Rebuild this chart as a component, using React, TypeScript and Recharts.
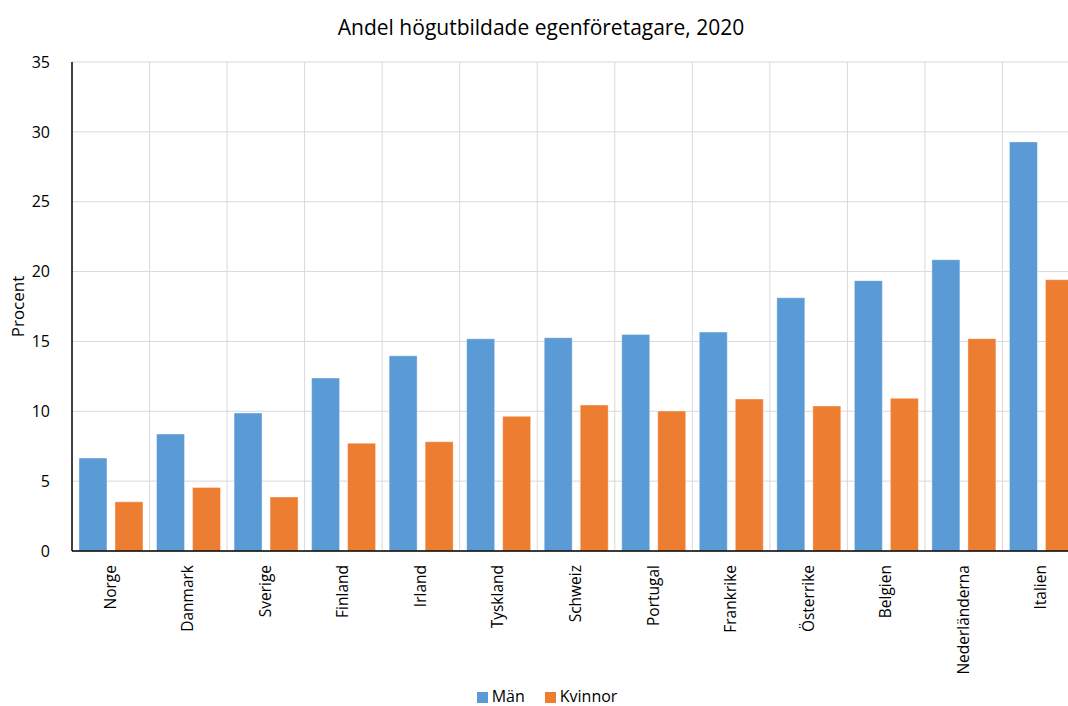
import React from 'react';
import {
  BarChart,
  Bar,
  XAxis,
  YAxis,
  CartesianGrid,
  Legend,
} from 'recharts';

const countries = [
  'Norge',
  'Danmark',
  'Sverige',
  'Finland',
  'Irland',
  'Tyskland',
  'Schweiz',
  'Portugal',
  'Frankrike',
  'Österrike',
  'Belgien',
  'Nederländerna',
  'Italien',
];

const man = [6.65, 8.37, 9.88, 12.38, 13.97, 15.19, 15.27, 15.5, 15.67, 18.13, 19.35, 20.85, 29.28];
const kvinnor = [3.52, 4.55, 3.87, 7.72, 7.82, 9.64, 10.45, 10.02, 10.88, 10.38, 10.93, 15.2, 19.42];

const yTicks = [0, 5, 10, 15, 20, 25, 30, 35];
const seriesOrder = ['Män', 'Kvinnor'];

const data = countries.map((land, i) => ({
  land,
  man: man[i],
  kvinnor: kvinnor[i],
}));

const FONT = '"Open Sans", sans-serif';

export default function App() {
  // vertical grid lines sit on the category boundaries, not on the centres
  const boundaries = ({ offset }: any) => {
    const step = offset.width / countries.length;
    return countries.map((_, i) => offset.left + (i + 1) * step);
  };

  return (
    <div style={{ width: 1068, height: 706, overflow: 'hidden', position: 'relative', fontFamily: FONT }}>
      <style>{'body{margin:0}'}</style>
      <div
        style={{
          position: 'absolute',
          top: 13,
          left: 0,
          width: 1082,
          textAlign: 'center',
          fontSize: 21,
          color: '#000',
        }}
      >
        Andel högutbildade egenföretagare, 2020
      </div>
      <BarChart
        width={1080}
        height={706}
        data={data}
        margin={{ top: 62, right: 0, bottom: 0, left: 0 }}
        barCategoryGap="9%"
        barGap={8}
      >
        <CartesianGrid stroke="#d9d9d9" verticalCoordinatesGenerator={boundaries} />
        <XAxis
          dataKey="land"
          interval={0}
          tickLine={false}
          axisLine={{ stroke: '#000', strokeWidth: 1.5 }}
          height={129}
          angle={-90}
          textAnchor="end"
          dx={-6}
          tickMargin={8}
          tick={{ fill: '#000', fontSize: 15.5, fontFamily: FONT }}
        />
        <YAxis
          domain={[0, 35]}
          ticks={yTicks}
          width={72}
          tickLine={false}
          tickMargin={16}
          axisLine={{ stroke: '#000', strokeWidth: 1.5 }}
          tick={{ fill: '#000', fontSize: 16, fontFamily: FONT }}
          label={{
            value: 'Procent',
            angle: -90,
            position: 'insideLeft',
            offset: 18,
            style: { fill: '#000', fontSize: 17, fontFamily: FONT, textAnchor: 'middle' },
          }}
        />
        <Legend
          verticalAlign="bottom"
          height={26}
          iconType="square"
          iconSize={11}
          itemSorter={(item: any) => seriesOrder.indexOf(item.value)}
          wrapperStyle={{ fontSize: 16, color: '#000', fontFamily: FONT, left: 24, width: 1066, bottom: -5 }}
          formatter={(v: string) => <span style={{ color: '#000', marginRight: 10 }}>{v}</span>}
        />
        <Bar
          dataKey="man"
          name="Män"
          fill="#5b9bd5"
          stroke="#ffffff"
          strokeOpacity={0.4}
          isAnimationActive={false}
        />
        <Bar
          dataKey="kvinnor"
          name="Kvinnor"
          fill="#ed7d31"
          stroke="#ffffff"
          strokeOpacity={0.4}
          isAnimationActive={false}
        />
      </BarChart>
    </div>
  );
}
